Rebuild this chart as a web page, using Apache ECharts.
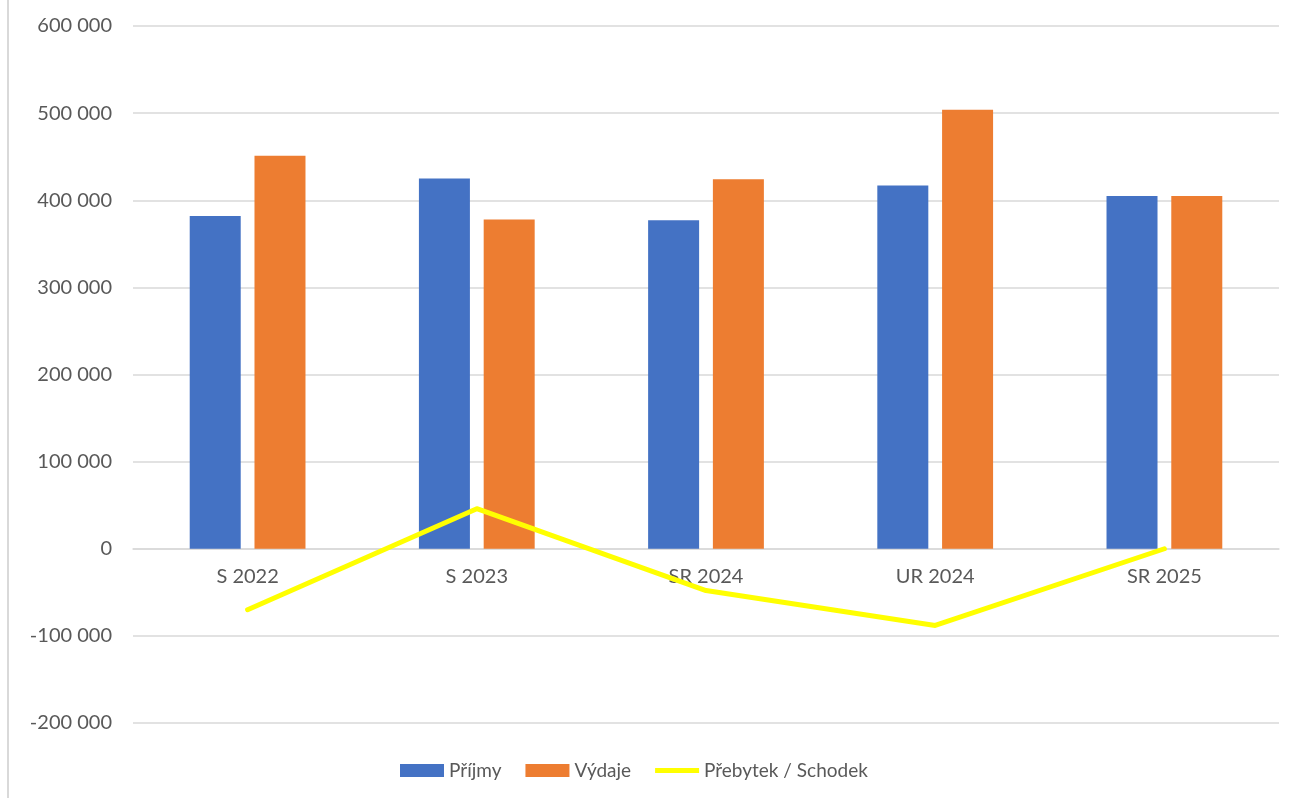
<!doctype html>
<html lang="cs">

<head>
    <meta charset="utf-8" />
    <title>Příjmy a výdaje</title>
    <script type="text/javascript" src="https://cdn.jsdelivr.net/npm/echarts@6/dist/echarts.min.js"></script>
    <style>
        html, body { margin: 0; padding: 0; background: #fff; }
        #frame { position: absolute; left: 7px; top: 0; width: 0; height: 798px; border-left: 2px solid #d9d9d9; }
        #chart { position: absolute; left: 0; top: 0; width: 1299px; height: 798px; }
    </style>
</head>

<body>
    <div id="frame"></div>
    <div id="chart"></div>

    <script type="text/javascript">
        // data
        let categories = ["S 2022", "S 2023", "SR 2024", "UR 2024", "SR 2025"];
        let prijmy = [382000, 425000, 377000, 417000, 405000];
        let vydaje = [451000, 378000, 424000, 504000, 405000];
        let saldo = [-70000, 46000, -48000, -88000, 0];

        let font = 'Lato, "Noto Sans", sans-serif';
        let textColor = '#595959';

        // "600 000", "-100 000"
        let fmt = function (v) {
            let s = Math.abs(v).toString().replace(/\B(?=(\d{3})+(?!\d))/g, ' ');
            return (v < 0 ? '-' : '') + s;
        };

        let chartDom = document.getElementById('chart');
        let myChart = echarts.init(chartDom);

        let option = {
            animation: false,
            textStyle: { fontFamily: font },
            grid: {
                left: 133,
                right: 20,
                top: 26,
                bottom: 75
            },
            legend: {
                left: 400,
                top: 761,
                padding: 0,
                itemWidth: 44,
                itemHeight: 13,
                itemGap: 24,
                textStyle: { fontSize: 19, color: textColor, fontFamily: font },
                data: [
                    { name: 'Příjmy', icon: 'rect' },
                    { name: 'Výdaje', icon: 'rect' },
                    { name: 'Přebytek / Schodek', icon: 'path://M0,0 L100,0 L100,11 L0,11 Z' }
                ]
            },
            xAxis: {
                type: 'category',
                data: categories,
                // axis sits on the zero line (a quarter of the plot height above the bottom)
                offset: -174,
                axisLine: { onZero: false, lineStyle: { color: '#d9d9d9', width: 1.5 } },
                axisTick: { show: false },
                axisLabel: { color: textColor, fontSize: 20, margin: 18 }
            },
            yAxis: {
                type: 'value',
                min: -200000,
                max: 600000,
                interval: 100000,
                axisLine: { show: false },
                axisTick: { show: false },
                splitLine: { lineStyle: { color: '#d9d9d9', width: 1.5 } },
                axisLabel: { color: textColor, fontSize: 20, margin: 21, formatter: fmt }
            },
            series: [
                {
                    name: 'Příjmy',
                    type: 'bar',
                    data: prijmy,
                    barWidth: 51,
                    barGap: '27%',
                    itemStyle: { color: '#4472C4' }
                },
                {
                    name: 'Výdaje',
                    type: 'bar',
                    data: vydaje,
                    barWidth: 51,
                    barGap: '27%',
                    itemStyle: { color: '#ED7D31' }
                },
                {
                    name: 'Přebytek / Schodek',
                    type: 'line',
                    data: saldo,
                    symbol: 'none',
                    itemStyle: { color: '#FFFF00' },
                    lineStyle: { color: '#FFFF00', width: 5, cap: 'round', join: 'round' },
                    z: 5
                }
            ]
        };

        option && myChart.setOption(option);
    </script>
</body>

</html>
